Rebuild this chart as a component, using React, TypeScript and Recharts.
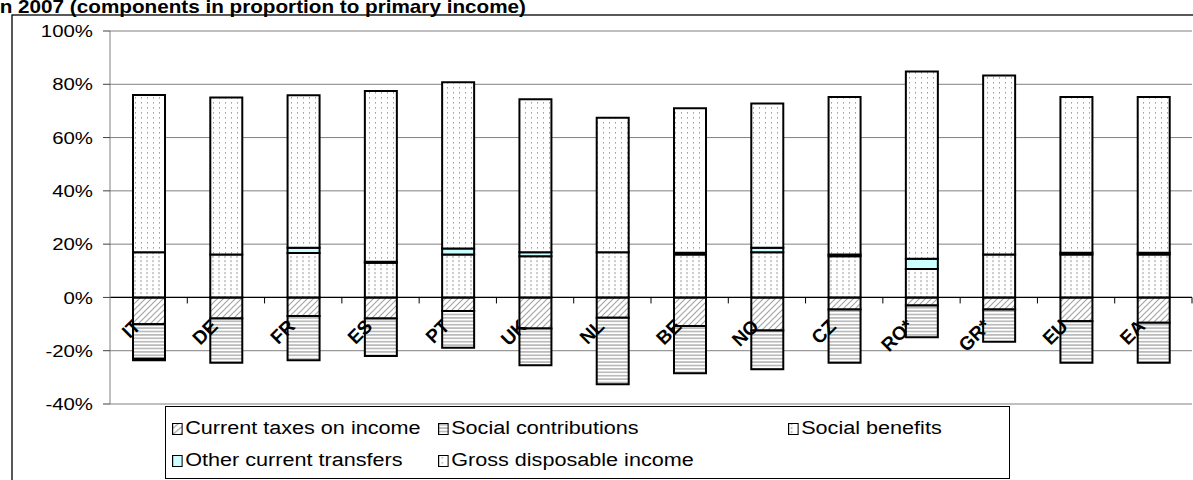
import React from 'react';
import { BarChart, Bar, XAxis, YAxis, CartesianGrid, ReferenceLine } from 'recharts';

// Components of household income, % of primary income
const categories = ['IT', 'DE', 'FR', 'ES', 'PT', 'UK', 'NL', 'BE', 'NO', 'CZ', 'RO*', 'GR*', 'EU', 'EA'];
const taxes = [-10.1, -7.9, -7.0, -7.9, -5.1, -11.7, -7.6, -10.7, -12.4, -4.5, -3.0, -4.5, -8.9, -9.5];
const contributions = [-12.9, -16.6, -16.6, -14.1, -13.8, -13.8, -25.0, -17.8, -14.6, -20.0, -11.9, -12.1, -15.6, -15.0];
const benefits = [17.0, 16.1, 16.7, 13.0, 16.1, 15.5, 17.0, 16.1, 17.0, 15.5, 10.7, 16.1, 16.1, 16.1];
const otherTransfers = [-0.6, 0, 1.9, 0.4, 2.3, 1.5, 0, 0.7, 1.6, 0.6, 3.8, 0, 0.7, 0.7];
const disposable = [59.0, 58.9, 57.3, 64.1, 62.4, 57.4, 50.4, 54.2, 54.2, 59.1, 70.3, 67.2, 58.4, 58.4];
const yTicks = [-40, -20, 0, 20, 40, 60, 80, 100];

const data = categories.map((name, i) => ({
  name,
  taxes: taxes[i],
  contributions: contributions[i],
  benefits: benefits[i],
  other: otherTransfers[i],
  disposable: disposable[i],
}));

const W = 1193;
const H = 480;
const PLOT_LEFT = 110;
const PLOT_RIGHT = 1192;
const PLOT_TOP = 31;
const PLOT_BOTTOM = 404;
const Y_MIN = -40;
const Y_MAX = 100;
const ZERO_Y = PLOT_TOP + ((PLOT_BOTTOM - PLOT_TOP) * Y_MAX) / (Y_MAX - Y_MIN);
const BAND = (PLOT_RIGHT - PLOT_LEFT) / categories.length;
const FONT = 'Arial, "Liberation Sans", sans-serif';

const Patterns = () => (
  <svg width={0} height={0} style={{ position: 'absolute' }}>
    <defs>
      <pattern id="pTax" width={6} height={6} patternUnits="userSpaceOnUse">
        <rect width={6} height={6} fill="#fff" />
        <path d="M0,6 L6,0 M-1,1 L1,-1 M5,7 L7,5" stroke="#a6a6a6" strokeWidth={1.2} />
      </pattern>
      <pattern id="pContrib" width={6} height={3.4} patternUnits="userSpaceOnUse">
        <rect width={6} height={3.4} fill="#fff" />
        <line x1={0} y1={1.7} x2={6} y2={1.7} stroke="#a6a6a6" strokeWidth={1.3} />
      </pattern>
      <pattern id="pBenefit" width={6} height={4} patternUnits="userSpaceOnUse">
        <rect width={6} height={4} fill="#fff" />
        <line x1={3} y1={0} x2={3} y2={2.2} stroke="#a0a0a0" strokeWidth={1} />
      </pattern>
      <pattern id="pGdi" width={6} height={5} patternUnits="userSpaceOnUse">
        <rect width={6} height={5} fill="#fff" />
        <rect x={3} y={2} width={1} height={1.6} fill="#a0a0a0" />
      </pattern>
    </defs>
  </svg>
);

const YTick = (props: any) => {
  const { x, y, payload } = props;
  return (
    <text
      transform={`translate(${x},${y}) scale(1.2,1)`}
      textAnchor="end"
      dy="0.36em"
      fontSize={17}
      fontFamily={FONT}
      fill="#000"
    >
      {`${payload.value}%`}
    </text>
  );
};

const XTick = (props: any) => {
  const { x, payload } = props;
  const ax = x - 7;
  const ay = ZERO_Y + 30;
  return (
    <g>
      <line x1={x + BAND / 2} y1={ZERO_Y} x2={x + BAND / 2} y2={ZERO_Y + 6} stroke="#000" strokeWidth={1} />
      <text
        x={ax}
        y={ay}
        transform={`rotate(-45, ${ax}, ${ay})`}
        textAnchor="end"
        fontSize={19}
        fontWeight="bold"
        fontFamily={FONT}
        fill="#000"
      >
        {payload.value}
      </text>
    </g>
  );
};

const legendItems = [
  { label: 'Current taxes on income', fill: 'url(#pTax)', left: 172, top: 418 },
  { label: 'Social contributions', fill: 'url(#pContrib)', left: 438, top: 418 },
  { label: 'Social benefits', fill: 'url(#pBenefit)', left: 788, top: 418 },
  { label: 'Other current transfers', fill: '#ccffff', left: 172, top: 450 },
  { label: 'Gross disposable income', fill: 'url(#pGdi)', left: 438, top: 450 },
];

const App = () => {
  return (
    <div style={{ position: 'absolute', left: 0, top: 0, width: W, height: H, overflow: 'hidden', background: '#fff' }}>
      <Patterns />
      <svg width={W} height={H} style={{ position: 'absolute', left: 0, top: 0 }}>
        <text
          transform="translate(-6,13) scale(1.15,1)"
          fontSize={18}
          fontWeight="bold"
          fontFamily={FONT}
          fill="#000"
        >
          in 2007 (components in proportion to primary income)
        </text>
        <rect x={12} y={15} width={W + 20} height={H + 20} fill="none" stroke="#000" strokeWidth={1.3} />
      </svg>
      <div style={{ position: 'absolute', left: 0, top: 0 }}>
        <BarChart
          width={W}
          height={H}
          data={data}
          stackOffset="sign"
          barSize={32}
          margin={{ top: PLOT_TOP, right: W - PLOT_RIGHT, bottom: H - PLOT_BOTTOM - 30, left: 12 }}
        >
          <CartesianGrid vertical={false} stroke="#808080" strokeWidth={1} />
          <YAxis
            width={PLOT_LEFT - 12}
            domain={[Y_MIN, Y_MAX]}
            ticks={yTicks}
            interval={0}
            allowDataOverflow
            axisLine={{ stroke: '#808080', strokeWidth: 1 }}
            tickLine={{ stroke: '#404040', strokeWidth: 1 }}
            tickSize={7}
            tickMargin={10}
            tick={<YTick />}
          />
          <Bar dataKey="taxes" stackId="s" fill="url(#pTax)" stroke="#000" strokeWidth={2} isAnimationActive={false} />
          <Bar dataKey="contributions" stackId="s" fill="url(#pContrib)" stroke="#000" strokeWidth={2} isAnimationActive={false} />
          <Bar dataKey="benefits" stackId="s" fill="url(#pBenefit)" stroke="#000" strokeWidth={2} isAnimationActive={false} />
          <Bar dataKey="other" stackId="s" fill="#ccffff" stroke="#000" strokeWidth={2} isAnimationActive={false} />
          <Bar dataKey="disposable" stackId="s" fill="url(#pGdi)" stroke="#000" strokeWidth={2} isAnimationActive={false} />
          <ReferenceLine y={0} stroke="#000" strokeWidth={1.3} />
          <XAxis
            dataKey="name"
            height={30}
            interval={0}
            axisLine={false}
            tickLine={false}
            tick={<XTick />}
          />
        </BarChart>
      </div>
      <div
        style={{
          position: 'absolute',
          left: 165,
          top: 406,
          width: 845,
          height: 73,
          border: '1px solid #000',
          background: '#fff',
          boxSizing: 'border-box',
        }}
      />
      {legendItems.map((item) => (
        <div
          key={item.label}
          style={{
            position: 'absolute',
            left: item.left,
            top: item.top,
            display: 'flex',
            alignItems: 'center',
            fontFamily: FONT,
            fontSize: 18,
            color: '#000',
            whiteSpace: 'nowrap',
            transform: 'scaleX(1.2)',
            transformOrigin: 'left center',
          }}
        >
          <svg width={9} height={12} style={{ marginRight: 2 }}>
            <rect x={0.5} y={0.5} width={8} height={11} fill={item.fill} stroke="#000" strokeWidth={1} />
          </svg>
          <span>{item.label}</span>
        </div>
      ))}
    </div>
  );
};

export default App;
